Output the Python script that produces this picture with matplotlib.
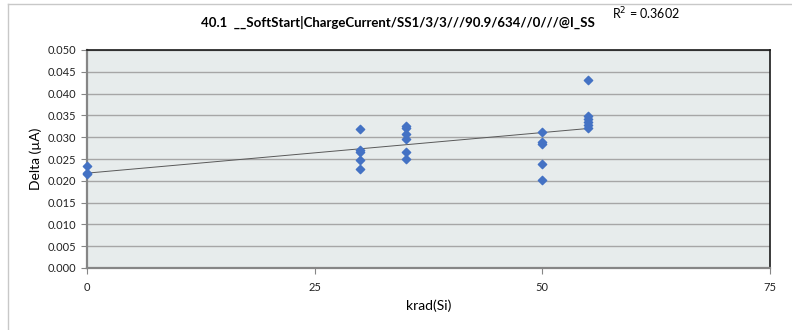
import numpy as np
import matplotlib
matplotlib.use("Agg")
import matplotlib.pyplot as plt
from matplotlib.lines import Line2D

# Data
x_krad = [0, 0, 0,
          30, 30, 30, 30, 30,
          35, 35, 35, 35, 35, 35,
          50, 50, 50, 50, 50,
          55, 55, 55, 55, 55, 55]
delta_uA = [0.0233, 0.0217, 0.0215,
            0.0319, 0.0271, 0.0265, 0.0248, 0.0228,
            0.0325, 0.0320, 0.0307, 0.0296, 0.0266, 0.0251,
            0.0312, 0.0289, 0.0284, 0.0238, 0.0201,
            0.0432, 0.0349, 0.0341, 0.0334, 0.0327, 0.0321]
title = "40.1  __SoftStart|ChargeCurrent/SS1/3/3///90.9/634//0///@I_SS"
r2_text = "R$^2$ = 0.3602"
x_ticks = [0, 25, 50, 75]
y_ticks = [0.000, 0.005, 0.010, 0.015, 0.020, 0.025, 0.030, 0.035, 0.040, 0.045, 0.050]

plt.rcParams['font.family'] = ['Lato', 'DejaVu Sans']

fig = plt.figure(figsize=(7.92, 3.30), dpi=100)
ax = fig.add_axes([87/792, 62/330, (770-87)/792, (268-50)/330])
ax.set_facecolor('#e7ecec')

ax.set_xlim(0, 75)
ax.set_ylim(0, 0.050)
ax.set_xticks(x_ticks)
ax.set_xticklabels([str(t) for t in x_ticks])
ax.set_yticks(y_ticks)
ax.set_yticklabels([f"{t:.3f}" for t in y_ticks])
ax.yaxis.grid(True, color='#a6a6a6', linewidth=1.0)
ax.set_axisbelow(True)

for s in ['top', 'right']:
    ax.spines[s].set_color('#1a1a1a')
    ax.spines[s].set_linewidth(1.2)
for s in ['left', 'bottom']:
    ax.spines[s].set_color('#868686')
    ax.spines[s].set_linewidth(1.6)

ax.tick_params(axis='both', labelsize=8, colors='#868686', labelcolor='#222222', length=4, width=0.8)
ax.tick_params(axis='x', pad=6)

ax.scatter(x_krad, delta_uA, marker='D', s=18, color='#4472c4', edgecolors='#4472c4', zorder=3, clip_on=False)

# Linear trendline
xa = np.array(x_krad, dtype=float)
ya = np.array(delta_uA, dtype=float)
m, b = np.polyfit(xa, ya, 1)
xs = np.array([xa.min(), xa.max()])
ax.plot(xs, m*xs + b, color='#595959', linewidth=0.7, zorder=2)

ax.set_xlabel("krad(Si)", fontsize=10, labelpad=5)
ax.set_ylabel("Delta (µA)", fontsize=10, labelpad=4)

fig.text(398/792, 1 - 22/330, title, ha='center', va='center', fontsize=9.5, fontweight='bold')
fig.text(612/792, 1 - 14/330, r2_text, ha='left', va='center', fontsize=9)

# outer chart border
fig.add_artist(Line2D([8/792, 8/792], [0, 1 - 4/330], transform=fig.transFigure, color='#c8c8c8', linewidth=1))
fig.add_artist(Line2D([8/792, 1], [1 - 4/330, 1 - 4/330], transform=fig.transFigure, color='#c8c8c8', linewidth=1))

fig.savefig("out.png", dpi=100)
